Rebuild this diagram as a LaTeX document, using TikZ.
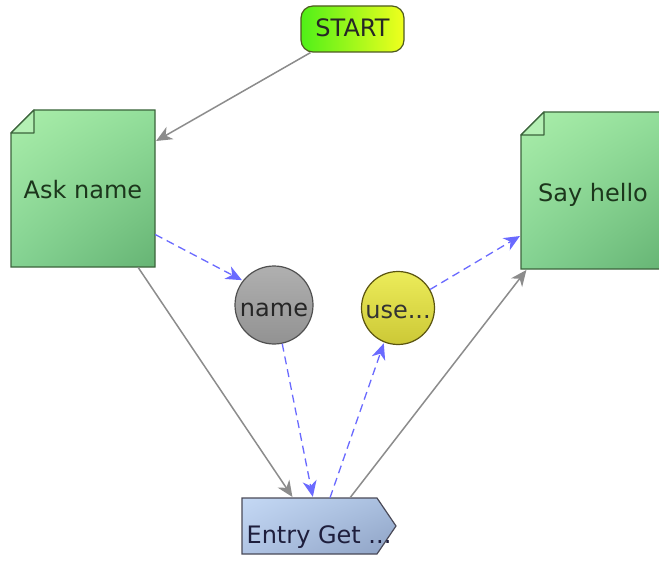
\documentclass[tikz,border=0pt]{standalone}
\usepackage{fontspec}
\setmainfont{DejaVu Sans}
\usetikzlibrary{arrows.meta,shadings}
\definecolor{gUL}{HTML}{AAEEAA}
\definecolor{gUR}{HTML}{92DE9A}
\definecolor{gLL}{HTML}{84D292}
\definecolor{gLR}{HTML}{66B474}
\definecolor{gFold}{HTML}{B4F0B4}
\definecolor{gBorder}{HTML}{3C643C}
\definecolor{gText}{HTML}{1C361C}
\definecolor{bUL}{HTML}{C4D8F4}
\definecolor{bUR}{HTML}{A8BEDE}
\definecolor{bLL}{HTML}{B0C4E4}
\definecolor{bLR}{HTML}{8EA2C4}
\definecolor{bBorder}{HTML}{4A4A58}
\definecolor{bText}{HTML}{1E1E3C}
\definecolor{startL}{HTML}{50F018}
\definecolor{startR}{HTML}{F0FF1E}
\definecolor{startB}{HTML}{4E5A1E}
\definecolor{grayTop}{HTML}{B0B0B0}
\definecolor{grayBot}{HTML}{929292}
\definecolor{grayB}{HTML}{505050}
\definecolor{yelTop}{HTML}{ECEC5A}
\definecolor{yelBot}{HTML}{CCC836}
\definecolor{yelB}{HTML}{5A5410}
\definecolor{flowGray}{HTML}{8C8C8C}
\definecolor{flowBlue}{HTML}{6A6AFF}
\tikzset{
  lbl/.style={inner sep=0pt, text depth=0pt},
  flow/.style={draw=flowGray, line width=1.5pt,
    -{Stealth[length=16pt,width=14pt,inset=5pt]}, shorten >=1pt},
  dataflow/.style={draw=flowBlue, line width=1.3pt, dash pattern=on 8pt off 5pt,
    -{Stealth[length=16pt,width=14pt,inset=5pt]}, shorten >=1pt},
  notebox/.style={shade, draw=gBorder, line width=1.2pt,
    upper left=gUL, upper right=gUR, lower left=gLL, lower right=gLR},
}
\begin{document}
\begin{tikzpicture}[x=1pt,y=-1pt,font=\fontsize{24}{28}\selectfont]
\useasboundingbox[fill=white] (0,0) rectangle (659,567);
% Ask name shape
\path[notebox] (34,110) -- (155,110) -- (155,267) -- (11,267) -- (11,133) -- cycle;
\filldraw[fill=gFold, draw=gBorder, line width=1.2pt, line join=round] (34,110) -- (34,133) -- (11,133) -- cycle;
% Say hello shape
\path[notebox] (544,112) -- (665,112) -- (665,269) -- (521,269) -- (521,135) -- cycle;
\filldraw[fill=gFold, draw=gBorder, line width=1.2pt, line join=round] (544,112) -- (544,135) -- (521,135) -- cycle;
% Entry shape
\path[shade, draw=bBorder, line width=1.2pt, upper left=bUL, upper right=bUR, lower left=bLL, lower right=bLR]
  (242,498) -- (377,498) -- (396,526) -- (377,554) -- (242,554) -- cycle;

% nodes
\node[lbl, text height=16pt, rectangle, rounded corners=12pt, minimum width=103pt, minimum height=46pt,
  left color=startL, right color=startR, draw=startB, line width=1.2pt, text=black!85] (start) at (352.5,29) {START};
\node[lbl, text height=19pt, minimum width=144pt, minimum height=157pt, text=gText] (ask) at (83,188.5) {Ask name};
\node[lbl, text height=21pt, minimum width=144pt, minimum height=157pt, text=gText] (say) at (593,190.5) {Say hello};
\node[lbl, text height=22pt, circle, minimum size=78pt, top color=grayTop, bottom color=grayBot,
  draw=grayB, line width=1.2pt, text=black!85] (name) at (274,305) {name};
\node[lbl, text height=20pt, circle, minimum size=73pt, top color=yelTop, bottom color=yelBot,
  draw=yelB, line width=1.2pt, text=black!80] (use) at (398,308) {use...};
\node[lbl, text height=34pt, minimum width=154pt, minimum height=56pt, text=bText] (entry) at (319,526) {Entry Get ...};

% connectors
\draw[flow] ([xshift=-42pt]start.south) -- ([yshift=47pt]ask.east);
\draw[dataflow] ([yshift=-46pt]ask.east) -- (name.142);
\draw[flow] ([xshift=55pt]ask.south) -- ([xshift=-26pt]entry.north);
\draw[dataflow] (name.-78) -- ([xshift=-6pt]entry.north);
\draw[dataflow] ([xshift=11pt]entry.north) -- (use.-112);
\draw[flow] ([xshift=31pt]entry.north) -- ([xshift=-66pt]say.south);
\draw[dataflow] (use.30) -- ([yshift=-45pt]say.west);
\end{tikzpicture}
\end{document}
